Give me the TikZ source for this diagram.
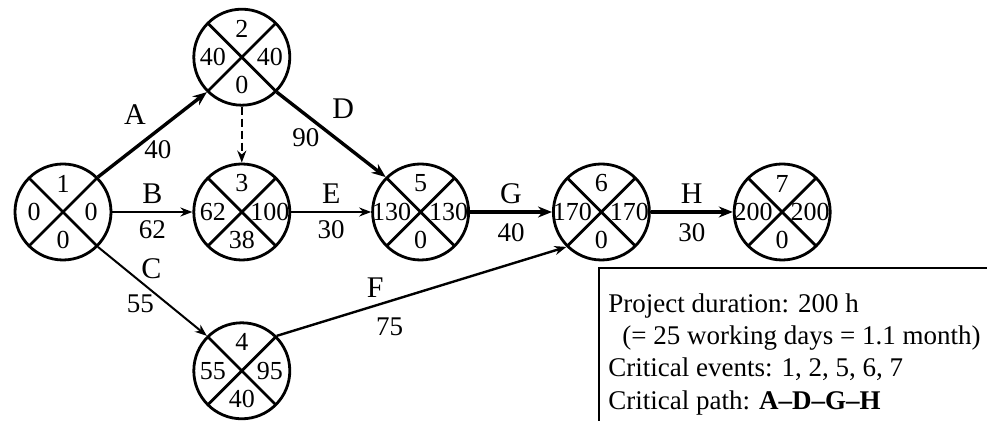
\documentclass[tikz,border=0pt]{standalone}
\usepackage{fontspec}
\setmainfont{Liberation Serif}
\usetikzlibrary{arrows.meta, positioning}

% four values of an event: number, earliest, latest, slack
\newcommand{\evvals}[5]{%
  \node[val] (#1t) at ([yshift=14.25pt]#1.center) {#2};
  \node[val] (#1l) at ([xshift=-14.5pt]#1.center) {#3};
  \node[val] (#1r) at ([xshift=14pt]#1.center) {#4};
  \node[val] (#1b) at ([yshift=-14pt]#1.center) {#5};}

\begin{document}
\begin{tikzpicture}[
        x=0.5pt, y=-0.5pt,
        node distance=28pt and 40pt,
        event/.style={circle, draw, line width=1.4pt, minimum size=48pt, inner sep=0pt,
            path picture={\draw[line width=1.4pt]
                (path picture bounding box.north west) -- (path picture bounding box.south east)
                (path picture bounding box.north east) -- (path picture bounding box.south west);}},
        val/.style={inner sep=0pt, font=\fontsize{13}{15}\selectfont},
        act/.style={inner sep=1pt, font=\fontsize{15}{17}\selectfont},
        dur/.style={inner sep=1pt, font=\fontsize{13.5}{15}\selectfont},
        note/.style={align=left, inner sep=0pt, font=\fontsize{13.5}{16.2}\selectfont},
        arrow/.style={-{Stealth[length=6pt, width=4.5pt]}, line width=1pt},
        crit/.style={arrow, line width=1.7pt, -{Stealth[length=7pt, width=5.5pt]}},
        dummy/.style={arrow, dash pattern=on 4pt off 2pt}
    ]
        \path[use as bounding box] (0,0) rectangle (987,421);
        \clip (0,0) rectangle (987,421);

        \node[event] (n1) at (63,212) {};
        \node[event, right=of n1] (n3) {};
        \node[event, above=of n3] (n2) {};
        \node[event, below=30pt of n3] (n4) {};
        \node[event, right=of n3] (n5) {};
        \node[event, right=41pt of n5] (n6) {};
        \node[event, right=41pt of n6] (n7) {};

        \evvals{n1}{1}{0}{0}{0}
        \evvals{n2}{2}{40}{40}{0}
        \evvals{n3}{3}{62}{100}{38}
        \evvals{n4}{4}{55}{95}{40}
        \evvals{n5}{5}{130}{130}{0}
        \evvals{n6}{6}{170}{170}{0}
        \evvals{n7}{7}{200}{200}{0}

        \draw[crit] (n1.45) -- node[act, pos=.34, above=10pt] (lA) {A} node[dur, pos=.55, below=3.3pt] (dA) {40} (n2.225);
        \draw[arrow] (n1) -- node[act, above=2.5pt] (lB) {B} node[dur, below=3pt] (dB) {62} (n3);
        \draw[arrow] (n1.-45) -- node[act, pos=.49, above=4.5pt] (lC) {C} node[dur, pos=.39, below=5.3pt] (dC) {55} (n4.135);
        \draw[crit] (n2.-45) -- node[act, pos=.61, above=11pt] (lD) {D} node[dur, pos=.535, left=6pt] (dD) {90} (n5.135);
        \draw[dummy] (n2) -- (n3);
        \draw[arrow] (n3) -- node[act, above=2.5pt] (lE) {E} node[dur, below=3pt] (dE) {30} (n5);
        \draw[arrow, line width=1.2pt] (n4.45) -- node[act, pos=.34, above=2.4pt] (lF) {F} node[dur, pos=.39, below=6.5pt] (dF) {75} (n6.225);
        \draw[crit] (n5) -- node[act, above=2.5pt] (lG) {G} node[dur, below=4pt] (dG) {40} (n6);
        \draw[crit] (n6) -- node[act, above=2.5pt] (lH) {H} node[dur, below=4pt] (dH) {30} (n7);

        % summary box, cut off by the picture edge
        \draw[line width=1pt] (599,268) rectangle (1000,440);
        \node[note, anchor=north west] (summary) at (608,293) {Project duration: 200 h\\
            \hspace*{7pt}(= 25 working days = 1.1 month)\\
            Critical events: 1, 2, 5, 6, 7\\
            Critical path: \textbf{A--D--G--H}};
    \end{tikzpicture}
\end{document}
